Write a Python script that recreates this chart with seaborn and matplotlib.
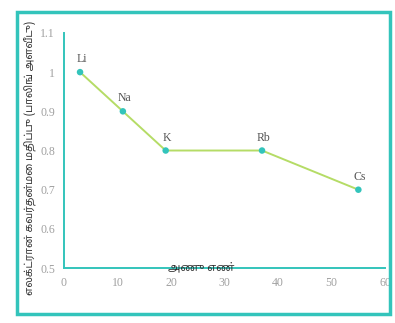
import pandas as pd
import seaborn as sns
import matplotlib.pyplot as plt
from matplotlib.patches import Rectangle

# Electronegativity of group 1 elements (Pauling scale)
elements = ["Li", "Na", "K", "Rb", "Cs"]
atomic_number = [3, 11, 19, 37, 55]
electronegativity = [1.0, 0.9, 0.8, 0.8, 0.7]

x_ticks = [0, 10, 20, 30, 40, 50, 60]
y_ticks = [0.5, 0.6, 0.7, 0.8, 0.9, 1.0, 1.1]
y_tick_labels = ["0.5", "0.6", "0.7", "0.8", "0.9", "1", "1.1"]

x_label = "அணு எண்"
y_label = "எலக்ட்ரான் கவர்தன்மை மதிப்பு (பாலிங் அளவீடு)"

df = pd.DataFrame({"Element": elements, "Z": atomic_number, "EN": electronegativity})

teal = "#33c4bb"
green = "#b5dc66"
tamil_fonts = ["Noto Sans Tamil", "Latha", "Lohit Tamil", "Noto Sans", "DejaVu Sans"]

sns.set_style("white")
plt.rcParams["font.family"] = ["Liberation Serif", "DejaVu Serif"]

fig = plt.figure(figsize=(3.95, 3.23), dpi=100)
ax = fig.add_axes([0.162, 0.170, 0.813, 0.728])

sns.lineplot(data=df, x="Z", y="EN", color=green, linewidth=1.4, ax=ax, zorder=2)
sns.scatterplot(data=df, x="Z", y="EN", color=teal, s=22, edgecolor="none", ax=ax, zorder=3)

for _, row in df.iterrows():
    ax.annotate(row["Element"], (row["Z"], row["EN"]), xytext=(1, 5),
                textcoords="offset points", ha="center", va="bottom",
                fontsize=8.5, color="#555555")

ax.set_xlim(0, 60)
ax.set_ylim(0.5, 1.1)
ax.set_xticks(x_ticks)
ax.set_yticks(y_ticks)
ax.set_yticklabels(y_tick_labels)
ax.tick_params(axis="both", direction="inout", length=3, width=0.8, color=teal,
               labelsize=8.5, labelcolor="#a0a0a0", pad=5)

sns.despine(ax=ax)
for side in ["left", "bottom"]:
    ax.spines[side].set_color(teal)
    ax.spines[side].set_linewidth(1.4)

ax.set_xlabel("")
ax.set_ylabel("")

# axis titles placed like the original figure
fig.text(0.51, 0.172, x_label, ha="center", va="center", fontsize=8,
         fontweight="bold", color="#333333", family=tamil_fonts)
fig.text(0.078, 0.51, y_label, ha="center", va="center", rotation=90,
         fontsize=7.5, color="#333333", family=tamil_fonts)

# outer frame
fig.patches.append(Rectangle((0.043, 0.028), 0.944, 0.935, transform=fig.transFigure,
                             fill=False, edgecolor=teal, linewidth=2.5, zorder=0))

fig.savefig("out.png", dpi=100)
